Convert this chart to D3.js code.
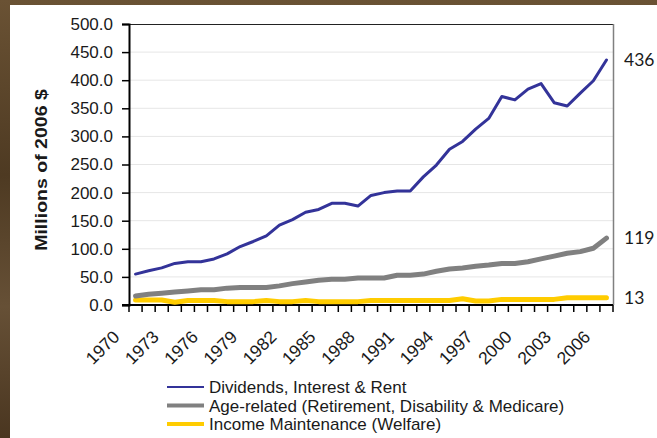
<!DOCTYPE html>
<html>
<head>
<meta charset="utf-8">
<script src="https://cdn.jsdelivr.net/npm/d3@7"></script>
<style>
  html, body { margin: 0; padding: 0; background: #5a4328; }
  svg { display: block; }
  text { font-family: "Liberation Sans", Arial, sans-serif; fill: #1a1a1a; }
</style>
</head>
<body>
<svg id="chart" width="657" height="438"></svg>
<script>
// ---- data ----
const years = d3.range(1970, 2007).map(String);
const tickLabels = ["1970","1973","1976","1979","1982","1985","1988","1991","1994","1997","2000","2003","2006"];
const dividends = [55,61,66,74,77,77,82,91,104,113,123,142,152,165,170,181,181,176,195,200,203,203,228,249,277,291,313,332,371,365,384,394,360,354,377,399,436];
const ageRelated = [16,19,21,23,25,27,27,30,31,31,31,34,38,41,44,46,46,48,48,48,53,53,55,60,64,66,69,71,74,74,77,82,87,92,95,101,119];
const incomeMaint = [9,9,9,5,8,8,8,6,6,6,8,6,6,8,6,6,6,6,8,8,8,8,8,8,8,11,7,7,10,10,10,10,10,13,13,13,13];
const seriesNames = ["Dividends, Interest & Rent","Age-related (Retirement, Disability & Medicare)","Income Maintenance (Welfare)"];
const seriesColors = ["#333399","#808080","#FFCC00"];
const seriesWidths = [3,5,5];
const endLabels = ["436","119","13"];
const yTicks = d3.range(0, 501, 50);

(function () {
const svg = d3.select("#chart");

// background texture
const defs = svg.append("defs");
const grad = defs.append("linearGradient").attr("id","bg").attr("x1","0").attr("y1","0").attr("x2","0").attr("y2","1");
grad.append("stop").attr("offset","0%").attr("stop-color","#6a5234");
grad.append("stop").attr("offset","40%").attr("stop-color","#4e3a22");
grad.append("stop").attr("offset","70%").attr("stop-color","#665036");
grad.append("stop").attr("offset","100%").attr("stop-color","#4a3620");
svg.append("rect").attr("width",657).attr("height",438).attr("fill","url(#bg)");
svg.append("rect").attr("x",10).attr("y",5).attr("width",647).attr("height",433).attr("fill","#ffffff");

const pLeft = 129, pRight = 613, pTop = 24, pBottom = 305;
const x = d3.scaleBand().domain(years).range([pLeft, pRight]).paddingInner(0).paddingOuter(0);
const xc = d => x(d) + x.bandwidth()/2;
const y = d3.scaleLinear().domain([0, 500]).range([pBottom, pTop]);

// gridlines
svg.append("g").selectAll("line").data(yTicks.filter(v => v > 0 && v < 500)).join("line")
  .attr("x1", pLeft).attr("x2", pRight).attr("y1", d => y(d)).attr("y2", d => y(d))
  .attr("stroke", "#e6e6e6").attr("stroke-width", 1);

// plot border top & right
svg.append("line").attr("x1", pLeft).attr("x2", pRight).attr("y1", pTop + 0.5).attr("y2", pTop + 0.5).attr("stroke", "#222").attr("stroke-width", 1);
svg.append("line").attr("x1", pRight + 0.5).attr("x2", pRight + 0.5).attr("y1", pTop).attr("y2", pBottom).attr("stroke", "#808080").attr("stroke-width", 1.5);

// y axis
const yAxis = d3.axisLeft(y).tickValues(yTicks).tickFormat(d3.format(".1f")).tickSize(7).tickPadding(9);
const gy = svg.append("g").attr("transform", `translate(${pLeft},0)`).call(yAxis);
gy.select(".domain").attr("stroke", "#000").attr("stroke-width", 2);
gy.selectAll(".tick line").attr("stroke", "#000").attr("stroke-width", 1.5);
gy.selectAll(".tick text").attr("font-size", 17).attr("fill", "#1a1a1a")
  .style("font-family", '"Liberation Sans", Arial, sans-serif');

// x axis
svg.append("line").attr("x1", pLeft - 7).attr("x2", pRight).attr("y1", pBottom).attr("y2", pBottom).attr("stroke", "#000").attr("stroke-width", 2);
const bounds = years.map(d => x(d)).concat([pRight]);
svg.append("g").selectAll("line").data(bounds).join("line")
  .attr("x1", d => d).attr("x2", d => d).attr("y1", pBottom).attr("y2", pBottom + 7)
  .attr("stroke", "#000").attr("stroke-width", 1.5);
svg.append("g").selectAll("text").data(tickLabels).join("text")
  .attr("text-anchor", "end")
  .attr("font-size", 17.5)
  .attr("transform", d => `translate(${xc(d) - 15},${pBottom + 33}) rotate(-45)`)
  .text(d => d);

// y title
svg.append("text")
  .attr("transform", `translate(47,170) rotate(-90) scale(1.15,1)`)
  .attr("text-anchor", "middle")
  .attr("font-size", 17).attr("font-weight", "bold")
  .text("Millions of 2006 $");

// lines
const allSeries = [dividends, ageRelated, incomeMaint];
const lineGen = d3.line().x((d, i) => xc(years[i])).y(d => y(d));
[2,1,0].forEach(k => {
  svg.append("path").datum(allSeries[k])
    .attr("fill", "none").attr("stroke", seriesColors[k]).attr("stroke-width", seriesWidths[k])
    .attr("stroke-linejoin", "round").attr("stroke-linecap", "round")
    .attr("d", lineGen);
});

// end labels
svg.append("g").selectAll("text").data(allSeries).join("text")
  .attr("x", 624).attr("y", d => y(d[d.length - 1]))
  .attr("dy", "0.35em")
  .attr("font-size", 17.5)
  .style("font-family", "Lato, 'Open Sans', sans-serif")
  .text((d, i) => endLabels[i]);

// legend
const lg = svg.append("g");
seriesNames.forEach((name, k) => {
  const ly = 387 + k * 18.5;
  lg.append("line").attr("x1", 167).attr("x2", 204).attr("y1", ly).attr("y2", ly)
    .attr("stroke", seriesColors[k]).attr("stroke-width", seriesWidths[k] - 1);
  lg.append("text").attr("x", 209).attr("y", ly).attr("dy", "0.36em")
    .attr("font-size", 17).text(name);
});
})();
</script>
</body>
</html>
